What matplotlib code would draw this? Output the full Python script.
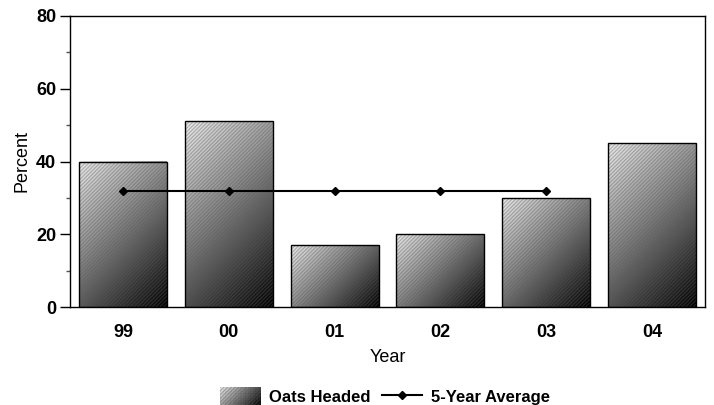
import numpy as np
import matplotlib
matplotlib.use("Agg")
import matplotlib.pyplot as plt
from matplotlib.patches import Rectangle
from matplotlib.legend_handler import HandlerBase
from matplotlib.lines import Line2D

years = ["99", "00", "01", "02", "03", "04"]
oats_headed = [40, 51, 17, 20, 30, 45]
avg_years = ["99", "00", "01", "02", "03"]
five_year_avg = [32, 32, 32, 32, 32]

plt.rcParams['font.family'] = ['Liberation Sans', 'DejaVu Sans']
plt.rcParams['hatch.linewidth'] = 0.8

LIGHT = 0.93
HATCH = '/' * 9
HATCH_COLOR = (0.35, 0.35, 0.35, 0.4)

def grad_gray(t):
    return LIGHT * (1 - t)

fig = plt.figure(figsize=(7.14, 4.05), dpi=100)
ax = fig.add_axes([70/714, 1-307/405, (705-70)/714, (307-16)/405])
x = np.arange(len(years))
width = 0.83
ax.set_xlim(-0.5, len(years) - 0.5)
ax.set_ylim(0, 80)

bars = ax.bar(x, oats_headed, width=width, facecolor='none', edgecolor='black', lw=1.0, zorder=4)

for b in bars:
    x0, y0 = b.get_x(), b.get_y()
    w, h = b.get_width(), b.get_height()
    p0 = ax.transData.transform((x0, y0))
    p1 = ax.transData.transform((x0 + w, y0 + h))
    wpx, hpx = abs(p1[0] - p0[0]), abs(p1[1] - p0[1])
    nx, ny = 120, 200
    u = np.linspace(0, 1, nx)[None, :] * wpx
    v = np.linspace(0, 1, ny)[:, None] * hpx
    t = (u + v) / (wpx + hpx)
    g = grad_gray(t)
    img = ax.imshow(g, cmap='gray', vmin=0, vmax=1, extent=[x0, x0 + w, y0, y0 + h],
                    origin='upper', aspect='auto', interpolation='bilinear', zorder=2)
    img.set_clip_path(b)

ax.bar(x, oats_headed, width=width, facecolor='none', edgecolor=HATCH_COLOR,
       hatch=HATCH, lw=0, zorder=3)

avg_x = [years.index(yv) for yv in avg_years]
ax.plot(avg_x, five_year_avg, color='black', lw=1.5, marker='D', ms=4, zorder=5)

ax.set_xticks(x)
ax.set_xticklabels(years, fontweight='bold', fontsize=13)
ax.tick_params(axis='x', length=0, pad=12)
ax.set_yticks([0, 20, 40, 60, 80])
ax.set_yticks([10, 30, 50, 70], minor=True)
ax.tick_params(axis='y', which='major', length=7, width=1, labelsize=13, pad=3)
ax.tick_params(axis='y', which='minor', length=3, width=1, color='#555555')
for lbl in ax.get_yticklabels():
    lbl.set_fontweight('bold')
ax.set_ylabel('Percent', fontsize=13, labelpad=4)
ax.set_xlabel('Year', fontsize=13, labelpad=6)
for s in ax.spines.values():
    s.set_linewidth(1.0)


class GradientHandler(HandlerBase):
    def create_artists(self, legend, orig_handle, xdescent, ydescent, width, height, fontsize, trans):
        arts = []
        nx, ny = 16, 8
        for i in range(nx):
            for j in range(ny):
                u = (i + 0.5) / nx * width
                v = (j + 0.5) / ny * height
                t = (u + v) / (width + height)
                c = grad_gray(t)
                r = Rectangle((-xdescent + i * width / nx, -ydescent + height - (j + 1) * height / ny),
                              width / nx + 0.3, height / ny + 0.3, facecolor=(c, c, c), lw=0,
                              transform=trans)
                arts.append(r)
        h = Rectangle((-xdescent, -ydescent), width, height, facecolor='none',
                      edgecolor=HATCH_COLOR, hatch=HATCH, lw=0, transform=trans)
        arts.append(h)
        return arts


class GradProxy:
    pass

line_handle = Line2D([], [], color='black', lw=1.5, marker='D', ms=4)
leg = fig.legend([GradProxy(), line_handle], ['Oats Headed', '5-Year Average'],
                 handler_map={GradProxy: GradientHandler()}, loc='center',
                 bbox_to_anchor=(385/714, 1 - 396/405), ncol=2, frameon=False,
                 handlelength=2.4, handleheight=1.2, handletextpad=0.55, columnspacing=0.65,
                 borderpad=0.1, prop={'weight': 'bold', 'size': 12})

fig.savefig('out.png', dpi=100)
